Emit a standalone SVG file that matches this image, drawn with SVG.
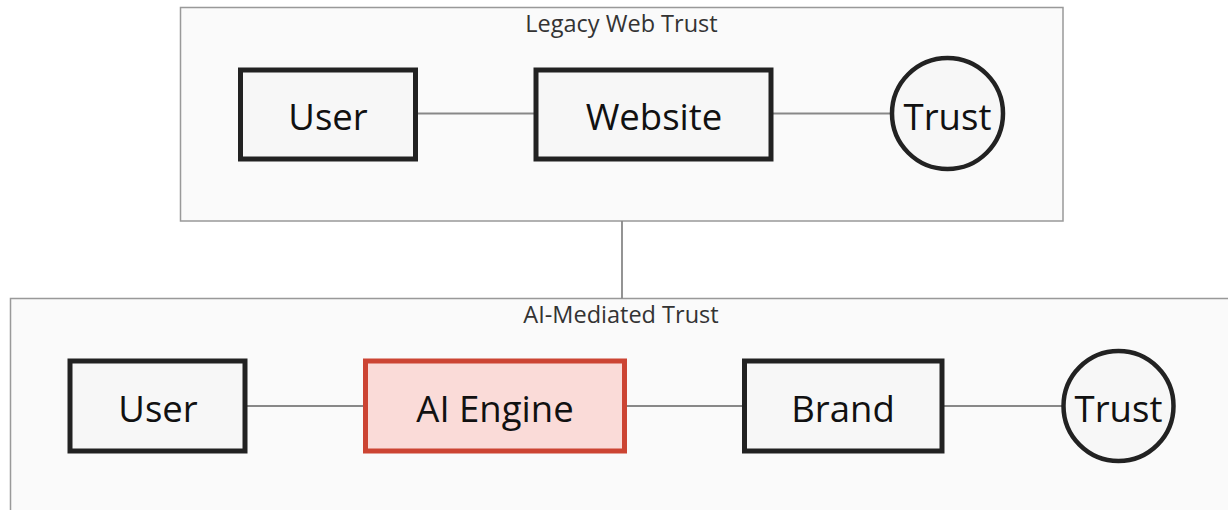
<svg xmlns="http://www.w3.org/2000/svg" width="1228" height="510" viewBox="0 0 1228 510">
  <style>
    .cluster { fill: #fafafa; stroke: #999999; stroke-width: 1.5; }
    .cluster-title { font-family: "Open Sans", "Noto Sans", sans-serif; font-size: 23.5px; fill: #333333; text-anchor: middle; }
    .node { fill: #f7f7f7; stroke: #222222; stroke-width: 5; }
    .node-hi { fill: #fadbd8; stroke: #cc4433; stroke-width: 5; }
    .circle { fill: #f7f7f7; stroke: #222222; stroke-width: 4.5; }
    .label { font-family: "Open Sans", "Noto Sans", sans-serif; font-size: 36.5px; fill: #111111; text-anchor: middle; dominant-baseline: central; }
    .edge { stroke: #888888; stroke-width: 1.8; fill: none; }
  </style>

  <!-- clusters -->
  <g id="cluster-legacy">
    <rect class="cluster" x="180.5" y="7.5" width="882.5" height="213.5"/>
    <text class="cluster-title" x="621.5" y="32">Legacy Web Trust</text>
  </g>
  <g id="cluster-ai">
    <rect class="cluster" x="10.5" y="298.5" width="1230" height="230"/>
    <text class="cluster-title" x="621" y="323">AI-Mediated Trust</text>
  </g>

  <!-- connectors -->
  <g id="connectors">
    <line class="edge" x1="415" y1="113.5" x2="536" y2="113.5"/>
    <line class="edge" x1="771" y1="113.5" x2="891" y2="113.5"/>
    <line class="edge" x1="622" y1="221" x2="622" y2="298.5"/>
    <line class="edge" x1="245" y1="406" x2="365" y2="406"/>
    <line class="edge" x1="625" y1="406" x2="745" y2="406"/>
    <line class="edge" x1="942" y1="406" x2="1062" y2="406"/>
  </g>

  <!-- legacy web trust nodes -->
  <g id="legacy-user">
    <rect class="node" x="240.5" y="70" width="175" height="89"/>
    <text class="label" x="328" y="116">User</text>
  </g>
  <g id="legacy-website">
    <rect class="node" x="536" y="70" width="235" height="89"/>
    <text class="label" x="654" y="116">Website</text>
  </g>
  <g id="legacy-trust">
    <circle class="circle" cx="947.5" cy="113.5" r="55.5"/>
    <text class="label" x="947.5" y="116">Trust</text>
  </g>

  <!-- ai-mediated trust nodes -->
  <g id="ai-user">
    <rect class="node" x="70" y="361" width="175" height="90"/>
    <text class="label" x="158" y="408">User</text>
  </g>
  <g id="ai-engine">
    <rect class="node-hi" x="365.5" y="361" width="259" height="90"/>
    <text class="label" x="495" y="408">AI Engine</text>
  </g>
  <g id="ai-brand">
    <rect class="node" x="744.5" y="361" width="197.5" height="90"/>
    <text class="label" x="843" y="408">Brand</text>
  </g>
  <g id="ai-trust">
    <circle class="circle" cx="1118.5" cy="406" r="55"/>
    <text class="label" x="1118.5" y="408">Trust</text>
  </g>
</svg>
